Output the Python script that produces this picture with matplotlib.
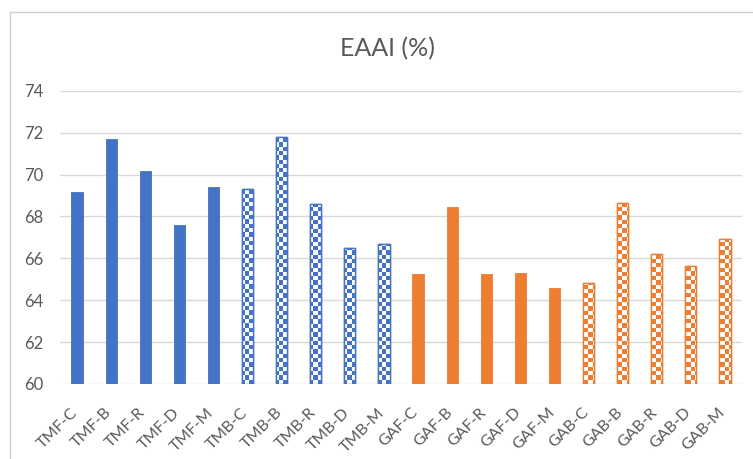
import numpy as np
import matplotlib
matplotlib.use("Agg")
import matplotlib.pyplot as plt
from matplotlib.colors import ListedColormap
from matplotlib.lines import Line2D
from matplotlib.transforms import ScaledTranslation

plt.rcParams['font.family'] = ['Lato', 'DejaVu Sans']

# Model variants and their EAAI scores (%)
categories = ["TMF-C", "TMF-B", "TMF-R", "TMF-D", "TMF-M",
              "TMB-C", "TMB-B", "TMB-R", "TMB-D", "TMB-M",
              "GAF-C", "GAF-B", "GAF-R", "GAF-D", "GAF-M",
              "GAB-C", "GAB-B", "GAB-R", "GAB-D", "GAB-M"]
eaai = [69.15, 71.68, 70.18, 67.59, 69.39,
        69.32, 71.78, 68.59, 66.49, 66.68,
        65.25, 68.43, 65.25, 65.31, 64.58,
        64.82, 68.66, 66.20, 65.65, 66.92]
# family colour and whether the bar is drawn with a checkered fill
families = ["TM"] * 10 + ["GA"] * 10
checkered = ([False] * 5 + [True] * 5) * 2
title = "EAAI (%)"
yticks = [60, 62, 64, 66, 68, 70, 72, 74]

palette = {"TM": "#4472C4", "GA": "#ED7D31"}
TEXT = "#595959"
GRID = "#D9D9D9"

W, H = 753, 459
fig = plt.figure(figsize=(W / 100, H / 100), dpi=100)
ax = fig.add_axes([60 / W, 1 - 384 / H, (742 - 60) / W, (384 - 90.7) / H])

x = np.arange(len(categories))
ymin, ymax = yticks[0], yticks[-1]
xlo, xhi = -0.5, len(categories) - 0.5

# checkerboard tile sized so that each cell is ~4.3 px on screen
ax_w_px = 742 - 60
ax_h_px = 384 - 90.7
cell = 4.3
ncols = int(round(ax_w_px / cell))
nrows = int(round(ax_h_px / cell))
board = (np.add.outer(np.arange(nrows), np.arange(ncols)) % 2).astype(float)

bar_width = 0.33
for xi, val, fam, chk in zip(x, eaai, families, checkered):
    col = palette[fam]
    if not chk:
        ax.bar(xi, val - ymin, bottom=ymin, width=bar_width, color=col,
               edgecolor=col, linewidth=0.6, zorder=3)
    else:
        b = ax.bar(xi, val - ymin, bottom=ymin, width=bar_width,
                   color="white", edgecolor=col, linewidth=1.0, zorder=3)[0]
        img = ax.imshow(board, cmap=ListedColormap([col, "#FFFFFF"]),
                        extent=(xlo, xhi, ymin, ymax), origin="lower",
                        aspect="auto", interpolation="nearest", zorder=3.5)
        img.set_clip_path(b)
        ax.bar(xi, val - ymin, bottom=ymin, width=bar_width,
               fill=False, edgecolor=col, linewidth=1.0, zorder=4)

ax.set_xlim(xlo, xhi)
ax.set_ylim(ymin, ymax)
ax.set_yticks(yticks)
ax.set_yticklabels([str(t) for t in yticks])
ax.set_xticks(x)
ax.set_xticklabels(categories, rotation=45, ha="right", va="center",
                   rotation_mode="anchor")

ax.grid(axis="y", color=GRID, linewidth=1.0, zorder=0)
ax.set_axisbelow(True)
for s in ["top", "right", "left", "bottom"]:
    ax.spines[s].set_visible(False)
ax.tick_params(axis="y", length=0, colors=TEXT, labelsize=12, pad=12)
ax.tick_params(axis="x", length=0, colors=TEXT, labelsize=11.5, pad=19)

# nudge the slanted category labels a little to the left
shift = ScaledTranslation(-2 / 100, 0, fig.dpi_scale_trans)
for lab in ax.get_xticklabels():
    lab.set_transform(lab.get_transform() + shift)

# chart frame
fig.add_artist(Line2D([10 / W, 10 / W], [0, 1 - 12 / H], color="#D0D0D0", lw=1.0))
fig.add_artist(Line2D([10 / W, 1], [1 - 12 / H, 1 - 12 / H], color="#D0D0D0", lw=1.0))

fig.text(387.5 / W, 1 - 49 / H, title, ha="center", va="center",
         fontsize=18, color=TEXT)

fig.savefig("out.png", dpi=100)
